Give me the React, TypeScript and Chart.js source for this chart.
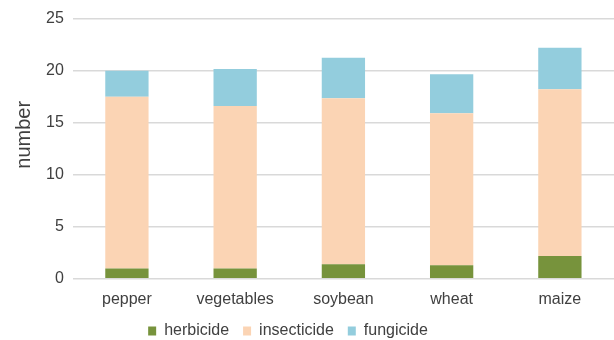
import React, { useEffect, useRef } from "react";
import { Chart, registerables } from "chart.js";

Chart.register(...registerables);

const crops = ["pepper", "vegetables", "soybean", "wheat", "maize"];
const herbicide = [1.0, 1.0, 1.4, 1.3, 2.2];
const insecticide = [16.5, 15.6, 15.95, 14.6, 16.0];
const fungicide = [2.5, 3.55, 3.9, 3.75, 4.0];
const yTicks = [0, 5, 10, 15, 20, 25];
const yTitle = "number";

// Nudges the bottom legend a little left of the canvas centre and up.
const legendShift = {
  id: "legendShift",
  afterLayout(chart: any) {
    const lg = chart.legend;
    if (lg) {
      lg.left -= 25;
      lg.right -= 25;
      lg.top -= 3;
      lg.bottom -= 3;
    }
  },
};

export default function App() {
  const ref = useRef<HTMLCanvasElement>(null);

  useEffect(() => {
    if (!ref.current) return;
    const font = "Arial, 'Liberation Sans', sans-serif";
    const text = "#404040";
    const chart = new Chart(ref.current, {
      type: "bar",
      data: {
        labels: crops,
        datasets: [
          { label: "herbicide", data: herbicide, backgroundColor: "#77933C" },
          { label: "insecticide", data: insecticide, backgroundColor: "#FBD4B4" },
          { label: "fungicide", data: fungicide, backgroundColor: "#93CDDD" },
        ],
      },
      plugins: [legendShift],
      options: {
        animation: false,
        responsive: false,
        maintainAspectRatio: false,
        layout: { padding: { left: 12, right: 0, top: 10, bottom: -12 } },
        datasets: { bar: { barPercentage: 0.4, categoryPercentage: 1 } },
        plugins: {
          legend: {
            position: "bottom",
            labels: {
              boxWidth: 8,
              boxHeight: 9,
              padding: 14,
              color: text,
              font: { family: font, size: 16 },
            },
          },
          tooltip: { enabled: false },
        },
        scales: {
          x: {
            stacked: true,
            grid: { display: false },
            border: { display: false },
            ticks: { color: text, font: { family: font, size: 16 }, padding: 3 },
          },
          y: {
            stacked: true,
            min: 0,
            max: 25,
            afterBuildTicks: (axis: any) => {
              axis.ticks = yTicks.map((v) => ({ value: v }));
            },
            grid: { color: "#D9D9D9", lineWidth: 1.5, drawTicks: false },
            border: { display: false },
            ticks: { color: text, font: { family: font, size: 16 }, padding: 9 },
            title: {
              display: true,
              // leading spaces lift the rotated title a little above the axis middle
              text: "\u00a0".repeat(5) + yTitle,
              color: text,
              font: { family: font, size: 20 },
              padding: { top: 0, bottom: 1 },
            },
          },
        },
      },
    });
    return () => chart.destroy();
  }, []);

  return (
    <div style={{ position: "fixed", left: 0, top: 0, width: 614, height: 340, background: "#fff" }}>
      <canvas ref={ref} width={614} height={340} />
    </div>
  );
}
